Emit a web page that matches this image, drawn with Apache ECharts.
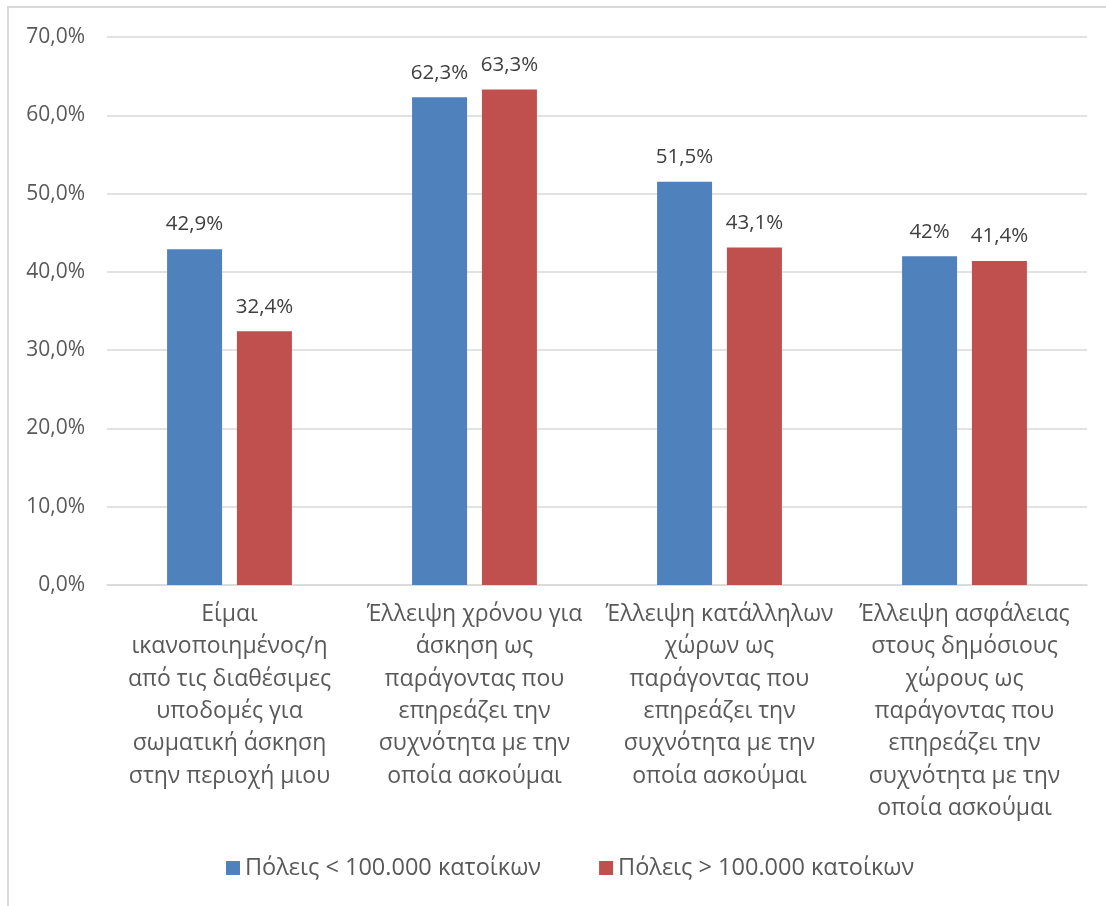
<!DOCTYPE html>
<html><head><meta charset="utf-8">
<script src="https://cdn.jsdelivr.net/npm/echarts@6/dist/echarts.min.js"></script>
<style>
html,body{margin:0;padding:0;background:#fff;}
#frame{position:absolute;left:7px;top:6px;width:1110px;height:920px;border-left:2px solid #d9d9d9;border-top:2px solid #d9d9d9;box-sizing:border-box;}
#c{position:absolute;left:0;top:0;width:1106px;height:906px;}
</style></head>
<body>
<div id="frame"></div>
<div id="c"></div>
<script>
const categories = [
  "Είμαι\nικανοποιημένος/η\nαπό τις διαθέσιμες\nυποδομές για\nσωματική άσκηση\nστην περιοχή μιου",
  "Έλλειψη χρόνου για\nάσκηση ως\nπαράγοντας που\nεπηρεάζει την\nσυχνότητα με την\nοποία ασκούμαι",
  "Έλλειψη κατάλληλων\nχώρων ως\nπαράγοντας που\nεπηρεάζει την\nσυχνότητα με την\nοποία ασκούμαι",
  "Έλλειψη ασφάλειας\nστους δημόσιους\nχώρους ως\nπαράγοντας που\nεπηρεάζει την\nσυχνότητα με την\nοποία ασκούμαι"
];
const seriesNames = ["Πόλεις < 100.000 κατοίκων", "Πόλεις > 100.000 κατοίκων"];
const smallCities = [42.9, 62.3, 51.5, 42];
const largeCities = [32.4, 63.3, 43.1, 41.4];

const FONT = "'Open Sans', 'Noto Sans', sans-serif";
const TXT = '#595959';
const labelFmt = p => String(p.value).replace('.', ',') + '%';

const chart = echarts.init(document.getElementById('c'), null, {renderer: 'canvas'});
chart.setOption({
  animation: false,
  textStyle: {fontFamily: FONT},
  grid: {left: 107, right: 19, top: 37, bottom: 321, containLabel: false},
  legend: {
    bottom: 21, left: 221, itemWidth: 14, itemHeight: 14, itemGap: 58,
    icon: 'rect',
    textStyle: {fontSize: 23.5, color: TXT, fontFamily: FONT}
  },
  xAxis: {
    type: 'category', data: categories,
    axisTick: {show: false},
    axisLine: {lineStyle: {color: '#d9d9d9', width: 1.5}},
    axisLabel: {interval: 0, margin: 13, fontSize: 23, lineHeight: 32.4, color: TXT, fontFamily: FONT, verticalAlign: 'top'}
  },
  yAxis: {
    type: 'value', min: 0, max: 70, interval: 10,
    axisLine: {show: false}, axisTick: {show: false},
    splitLine: {lineStyle: {color: '#d9d9d9', width: 1.5}},
    axisLabel: {margin: 22, fontSize: 21, color: TXT, fontFamily: FONT,
      formatter: v => v.toFixed(1).replace('.', ',') + '%'}
  },
  series: [
    {name: seriesNames[0], type: 'bar', data: smallCities, barWidth: 55, barGap: '27%',
     itemStyle: {color: '#4f81bd'},
     label: {show: true, position: 'top', distance: 14, fontSize: 20.5, color: '#404040', fontFamily: FONT, formatter: labelFmt}},
    {name: seriesNames[1], type: 'bar', data: largeCities, barWidth: 55,
     itemStyle: {color: '#c0504d'},
     label: {show: true, position: 'top', distance: 14, fontSize: 20.5, color: '#404040', fontFamily: FONT, formatter: labelFmt}}
  ]
});
</script>
</body></html>
